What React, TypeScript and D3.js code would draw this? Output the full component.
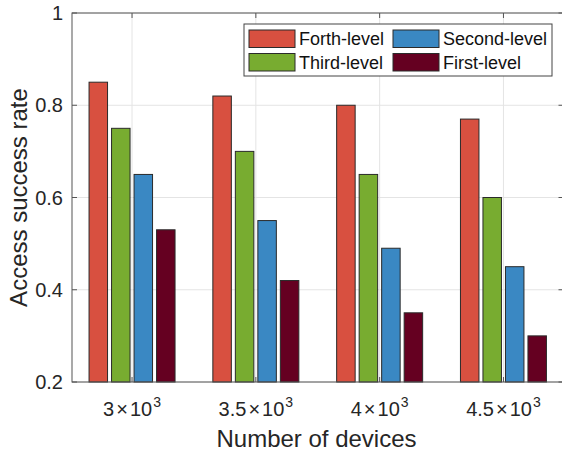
import React from "react";
import * as d3 from "d3";

const categories = [1, 2, 3, 4];
const categoryLabels = ["3", "3.5", "4", "4.5"];
const seriesNames = ["Forth-level", "Third-level", "Second-level", "First-level"];
const forthLevel = [0.85, 0.82, 0.8, 0.77];
const thirdLevel = [0.75, 0.7, 0.65, 0.6];
const secondLevel = [0.65, 0.55, 0.49, 0.45];
const firstLevel = [0.53, 0.42, 0.35, 0.3];
const yTicks = [0.2, 0.4, 0.6, 0.8, 1];
const colors = ["#D85040", "#78AC30", "#3A88C3", "#650021"];

const seriesValues = [forthLevel, thirdLevel, secondLevel, firstLevel];

const W = 562;
const H = 453;
const left = 72;
const top = 13;
const bottom = 382;
const right = 563.5;
const FONT = "'Liberation Sans', Arial, Helvetica, sans-serif";

export default function App() {
  const x = d3.scaleLinear().domain([0.515, 4.485]).range([left, right]);
  const y = d3.scaleLinear().domain([0.2, 1]).range([bottom, top]);
  const inner = d3
    .scaleBand<string>()
    .domain(seriesNames)
    .range([-45, 45])
    .paddingInner(0.178)
    .paddingOuter(0.089);
  const axisColor = "#555555";
  const gridColor = "#e4e4e4";
  const tickLen = 5;

  const legendOrder = [
    { name: seriesNames[0], col: 0, row: 0, c: colors[0] },
    { name: seriesNames[1], col: 0, row: 1, c: colors[1] },
    { name: seriesNames[2], col: 1, row: 0, c: colors[2] },
    { name: seriesNames[3], col: 1, row: 1, c: colors[3] },
  ];
  const colX = [249, 393];
  const rowY = [30, 53.5];

  return (
    <svg
      width={W}
      height={H}
      style={{ position: "absolute", left: 0, top: 0, background: "#fff" }}
      fontFamily={FONT}
    >
      <rect x={0} y={0} width={W} height={H} fill="#fff" />
      {yTicks.map((t) => (
        <line key={"gy" + t} x1={left} x2={right} y1={y(t)} y2={y(t)} stroke={gridColor} strokeWidth={1} />
      ))}
      {categories.map((c) => (
        <line key={"gx" + c} x1={x(c)} x2={x(c)} y1={top} y2={bottom} stroke={gridColor} strokeWidth={1} />
      ))}
      {categories.map((c, ci) =>
        seriesNames.map((s, si) => {
          const v = seriesValues[si][ci];
          const bx = x(c) + (inner(s) as number);
          return (
            <rect
              key={s + c}
              x={bx}
              y={y(v)}
              width={inner.bandwidth()}
              height={y(0.2) - y(v)}
              fill={colors[si]}
              stroke="#2a2a2a"
              strokeWidth={1}
            />
          );
        })
      )}
      <rect x={left} y={top} width={right - left} height={bottom - top} fill="none" stroke={axisColor} strokeWidth={1} />
      {yTicks.map((t) => (
        <g key={"ty" + t}>
          <line x1={left} x2={left + tickLen} y1={y(t)} y2={y(t)} stroke={axisColor} />
          <line x1={right} x2={right - tickLen} y1={y(t)} y2={y(t)} stroke={axisColor} />
          <text x={left - 9} y={y(t)} dy="0.36em" textAnchor="end" fontSize={20} fill="#262626">
            {String(t)}
          </text>
        </g>
      ))}
      {categories.map((c, ci) => (
        <g key={"tx" + c}>
          <line x1={x(c)} x2={x(c)} y1={bottom} y2={bottom - tickLen} stroke={axisColor} />
          <line x1={x(c)} x2={x(c)} y1={top} y2={top + tickLen} stroke={axisColor} />
          <text x={x(c)} y={416} textAnchor="middle" fontSize={20} fill="#262626">
            {categoryLabels[ci]}
            <tspan dx={2}>×</tspan>
            <tspan dx={2}>10</tspan>
            <tspan fontSize={14} dy={-9} dx={1}>3</tspan>
          </text>
        </g>
      ))}
      <text x={(left + 562) / 2 - 0.5} y={447} textAnchor="middle" fontSize={24} fill="#262626">
        Number of devices
      </text>
      <text
        transform={`translate(27, ${(top + bottom) / 2}) rotate(-90)`}
        textAnchor="middle"
        fontSize={24}
        fill="#262626"
      >
        Access success rate
      </text>
      <rect x={244} y={24} width={308} height={52} fill="#fff" stroke="#444" strokeWidth={1} />
      {legendOrder.map((l) => (
        <g key={"lg" + l.name}>
          <rect x={colX[l.col]} y={rowY[l.row]} width={46} height={17.5} fill={l.c} stroke="#2a2a2a" strokeWidth={1} />
          <text x={colX[l.col] + 50} y={rowY[l.row] + 8.75} dy="0.36em" fontSize={18} fill="#111">
            {l.name}
          </text>
        </g>
      ))}
    </svg>
  );
}
